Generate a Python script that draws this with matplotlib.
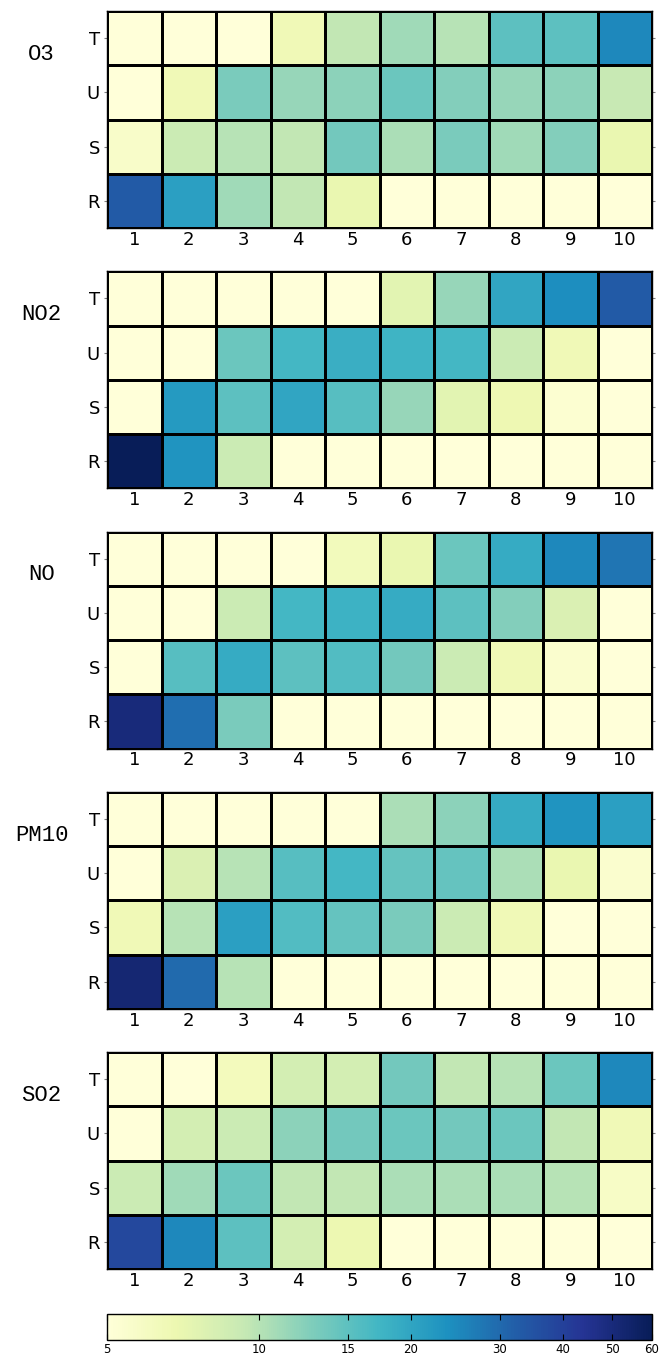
import numpy as np
import matplotlib
matplotlib.use('Agg')
from matplotlib import pyplot as plt
from matplotlib.colors import LogNorm

# panel names and axis labels
pollutants = ['O3', 'NO2', 'NO', 'PM10', 'SO2']
row_labels = ['T', 'U', 'S', 'R']          # top to bottom
col_labels = [str(i) for i in range(1, 11)]

# values, rows T, U, S, R (top to bottom)
o3 = [[4.0, 4.0, 4.0, 6.5, 9.5, 11.0, 10.0, 15.0, 15.0, 25.0],
      [4.5, 6.5, 13.0, 11.5, 12.0, 14.0, 12.5, 11.5, 12.0, 9.3],
      [5.7, 9.0, 10.0, 9.5, 13.5, 10.5, 13.0, 11.0, 12.5, 7.0],
      [33.0, 21.0, 11.0, 9.5, 7.0, 4.0, 4.0, 4.0, 4.0, 4.0]]
no2 = [[4.0, 4.0, 4.0, 4.0, 4.0, 7.5, 11.5, 20.0, 24.0, 33.0],
       [4.0, 4.0, 14.0, 17.0, 18.5, 17.5, 17.0, 9.0, 6.5, 4.0],
       [4.0, 22.0, 15.0, 20.0, 15.5, 11.5, 7.5, 6.7, 5.3, 4.0],
       [60.0, 23.0, 9.0, 4.0, 4.0, 4.0, 4.0, 4.0, 4.0, 4.0]]
no = [[4.0, 4.0, 4.0, 4.0, 6.3, 7.0, 14.0, 19.0, 25.0, 28.0],
      [4.0, 4.0, 9.0, 17.0, 18.0, 19.0, 15.0, 12.5, 8.0, 4.0],
      [4.0, 15.5, 19.0, 15.0, 16.0, 13.5, 9.0, 6.5, 5.5, 4.0],
      [50.0, 29.0, 13.0, 4.0, 4.0, 4.0, 4.0, 4.0, 4.0, 4.0]]
pm10 = [[4.0, 4.0, 4.0, 4.0, 4.8, 10.5, 12.0, 19.0, 23.0, 21.0],
        [4.0, 8.0, 10.0, 15.5, 17.0, 14.5, 14.5, 10.5, 7.0, 5.5],
        [6.5, 10.0, 21.0, 16.0, 14.5, 13.0, 9.0, 6.5, 4.5, 4.0],
        [52.0, 30.0, 10.0, 4.0, 4.0, 4.0, 4.0, 4.0, 4.0, 4.0]]
so2 = [[4.0, 4.0, 6.2, 8.5, 8.5, 13.5, 9.5, 10.0, 14.0, 25.0],
       [4.0, 8.5, 9.0, 12.0, 13.5, 14.0, 13.5, 14.0, 9.5, 6.5],
       [9.0, 11.0, 14.0, 9.5, 9.5, 10.5, 10.5, 10.5, 10.0, 5.8],
       [38.0, 25.0, 15.0, 8.5, 6.8, 4.0, 4.0, 4.0, 4.0, 4.0]]
panels = [o3, no2, no, pm10, so2]

cbar_ticks = [5, 10, 15, 20, 30, 40, 50, 60]

fig = plt.figure(figsize=(6.63, 13.6), dpi=100)
norm = LogNorm(vmin=5, vmax=60)
cmap = plt.get_cmap('YlGnBu')

left = 107 / 663
width = 545 / 663
for i, (name, vals) in enumerate(zip(pollutants, panels)):
    top_px = 11 + i * 260.25
    ax = fig.add_axes([left, 1 - (top_px + 217) / 1360, width, 217 / 1360])
    arr = np.array(vals)[::-1]   # bottom row first
    mesh = ax.pcolormesh(np.arange(11), np.arange(5), arr, cmap=cmap, norm=norm,
                         edgecolors='black', linewidth=1.0)
    ax.set_xlim(0, 10)
    ax.set_ylim(0, 4)
    ax.set_xticks(np.arange(10) + 0.5)
    ax.set_xticklabels(col_labels, fontsize=13)
    ax.set_yticks(np.arange(4) + 0.5)
    ax.set_yticklabels(row_labels[::-1], fontsize=13)
    ax.tick_params(axis='both', length=2, color='gray', direction='out', right=True, pad=3)
    ax.tick_params(axis='x', length=0, pad=2)
    for s in ax.spines.values():
        s.set_linewidth(1.0)
    ax.text(-0.12, 0.8, name, transform=ax.transAxes, ha='center', va='center',
            fontsize=16, family='Liberation Mono')

cax = fig.add_axes([left, 1 - 1340 / 1360, width, 26 / 1360])
cb = fig.colorbar(mesh, cax=cax, orientation='horizontal')
cb.set_ticks(cbar_ticks)
cb.set_ticklabels([str(t) for t in cbar_ticks])
cb.minorticks_off()
cax.tick_params(axis='x', labelsize=8.5, direction='in', length=4, top=True, pad=2)
cb.outline.set_linewidth(1.0)

fig.savefig('out.png', dpi=100)
